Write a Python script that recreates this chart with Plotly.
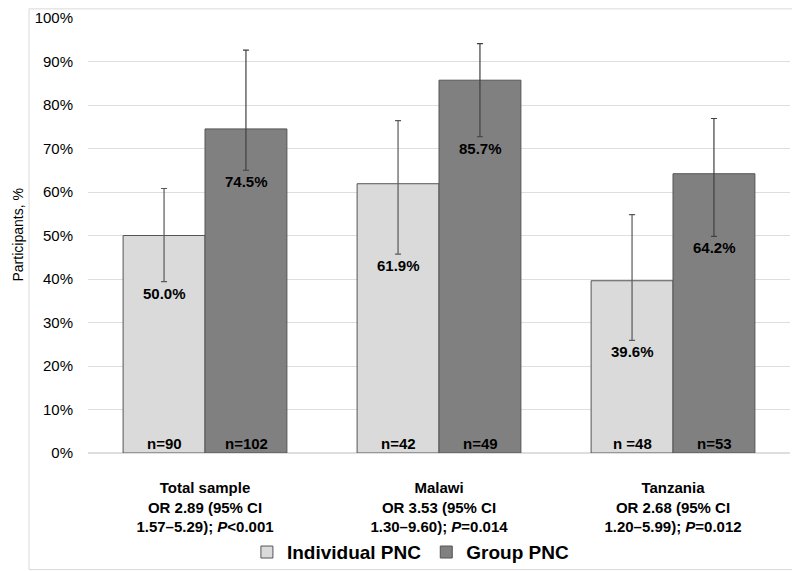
import plotly.graph_objects as go

categories = ["Total sample", "Malawi", "Tanzania"]
cat_labels = [
    "<b>Total sample<br>OR 2.89 (95% CI<br>1.57–5.29); <i>P</i><0.001</b>",
    "<b>Malawi<br>OR 3.53 (95% CI<br>1.30–9.60); <i>P</i>=0.014</b>",
    "<b>Tanzania<br>OR 2.68 (95% CI<br>1.20–5.99); <i>P</i>=0.012</b>",
]
individual = [50.0, 61.9, 39.6]
individual_lo = [39.4, 45.7, 25.9]
individual_hi = [60.8, 76.4, 54.8]
individual_n = ["n=90", "n=42", "n =48"]
group = [74.5, 85.7, 64.2]
group_lo = [65.0, 72.7, 49.8]
group_hi = [92.6, 94.1, 76.9]
group_n = ["n=102", "n=49", "n=53"]
y_ticks = [0, 10, 20, 30, 40, 50, 60, 70, 80, 90, 100]
y_tick_labels = [f"{v}%" for v in y_ticks]

FONT = "Liberation Sans, Arial, sans-serif"

fig = go.Figure()
fig.add_trace(go.Bar(
    name="<b>Individual PNC</b>", x=categories, y=individual,
    marker=dict(color="#dadada", line=dict(color="#555555", width=1)),
    error_y=dict(type="data", symmetric=False,
                 array=[h - v for h, v in zip(individual_hi, individual)],
                 arrayminus=[v - l for v, l in zip(individual, individual_lo)],
                 color="#595959", thickness=1.2, width=3),
))
fig.add_trace(go.Bar(
    name="<b>Group PNC</b>", x=categories, y=group,
    marker=dict(color="#808080", line=dict(color="#555555", width=1)),
    error_y=dict(type="data", symmetric=False,
                 array=[h - v for h, v in zip(group_hi, group)],
                 arrayminus=[v - l for v, l in zip(group, group_lo)],
                 color="#404040", thickness=1.2, width=3),
))

annotations = []
for i, c in enumerate(categories):
    for vals, lo, ns, shift in [(individual, individual_lo, individual_n, -41),
                                (group, group_lo, group_n, 41)]:
        annotations.append(dict(x=c, y=lo[i], xref="x", yref="y", xshift=shift, yshift=-1,
                                yanchor="top", showarrow=False,
                                text=f"<b>{vals[i]:.1f}%</b>",
                                font=dict(size=15, color="black", family=FONT)))
        annotations.append(dict(x=c, y=0, xref="x", yref="y", xshift=shift, yshift=-1,
                                yanchor="bottom", showarrow=False,
                                text=f"<b>{ns[i]}</b>",
                                font=dict(size=15, color="black", family=FONT)))
annotations.append(dict(x=0, y=0.5, xref="paper", yref="paper", xshift=-71,
                        xanchor="center", yanchor="middle",
                        textangle=-90, showarrow=False, text="Participants, %",
                        font=dict(size=14, color="black", family=FONT)))

fig.update_layout(
    width=792, height=563,
    margin=dict(l=80, r=10, t=10, b=118, autoexpand=False),
    paper_bgcolor="white", plot_bgcolor="white",
    font=dict(family=FONT, color="black"),
    barmode="group", bargap=0.3, bargroupgap=0,
    showlegend=True,
    legend=dict(orientation="h", x=0.46, xanchor="center", y=-0.228, yanchor="middle",
                font=dict(size=19, family=FONT, color="black"),
                itemwidth=30, traceorder="normal", bgcolor="rgba(0,0,0,0)"),
    annotations=annotations,
    shapes=[dict(type="rect", xref="paper", yref="paper",
                 x0=-0.084, x1=1.0071, y0=-0.268, y1=1.021,
                 line=dict(color="#d9d9d9", width=1), fillcolor="rgba(0,0,0,0)", layer="below")],
)
fig.update_xaxes(tickvals=categories, ticktext=cat_labels, showline=False, showgrid=False,
                 tickfont=dict(size=15, family=FONT, color="black"), ticks="", ticklabelstandoff=24)
fig.update_yaxes(range=[0, 100], tickvals=y_ticks, ticktext=y_tick_labels, showgrid=True,
                 gridcolor="#dedede", gridwidth=1, zeroline=True, zerolinecolor="#dedede",
                 showline=False, tickfont=dict(size=15, family=FONT, color="black"),
                 ticklabelstandoff=14, ticklabeloverflow="allow")

fig.write_html("out.html")
